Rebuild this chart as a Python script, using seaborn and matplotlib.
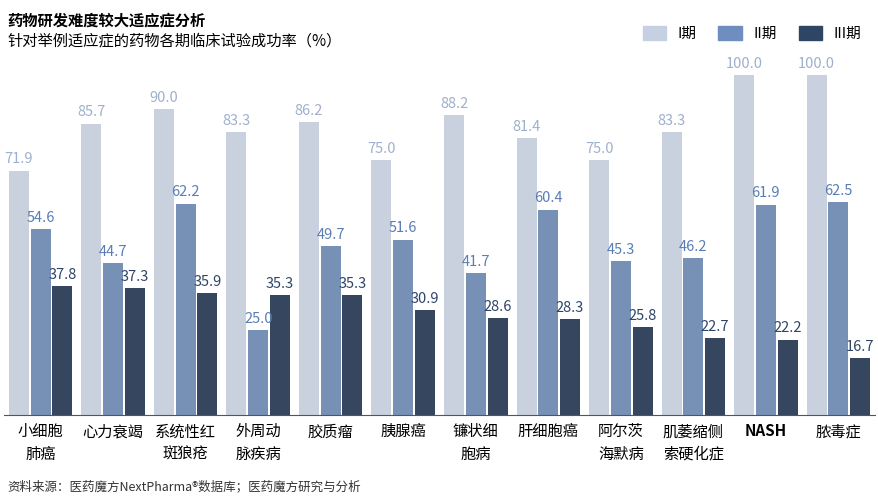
import matplotlib
matplotlib.use("Agg")
import matplotlib.pyplot as plt
import seaborn as sns
import pandas as pd
from matplotlib.patches import Patch

plt.rcParams["font.family"] = ["Noto Sans CJK SC", "DejaVu Sans"]

# ── Data ──────────────────────────────────────────────────────────────────────
CATEGORIES = ["小细胞\n肺癌", "心力衰竭", "系统性红\n斑狼疮", "外周动\n脉疾病", "胶质瘤", "胰腺癌",
              "镰状细\n胞病", "肝细胞癌", "阿尔茨\n海默病", "肌萎缩侧\n索硬化症", "NASH", "脓毒症"]
PHASE_1 = [71.9, 85.7, 90.0, 83.3, 86.2, 75.0, 88.2, 81.4, 75.0, 83.3, 100.0, 100.0]
PHASE_2 = [54.6, 44.7, 62.2, 25.0, 49.7, 51.6, 41.7, 60.4, 45.3, 46.2, 61.9, 62.5]
PHASE_3 = [37.8, 37.3, 35.9, 35.3, 35.3, 30.9, 28.6, 28.3, 25.8, 22.7, 22.2, 16.7]
PHASES = ["I期", "II期", "III期"]

COLORS = ["#c5d0e3", "#6d8ebf", "#2f4566"]
LABEL_COLORS = ["#9fb0cc", "#5a7db5", "#2f4566"]

rows = []
for ph, vals in zip(PHASES, [PHASE_1, PHASE_2, PHASE_3]):
    for c, v in zip(CATEGORIES, vals):
        rows.append({"cat": c, "phase": ph, "val": v})
df = pd.DataFrame(rows)

# ── Plot ──────────────────────────────────────────────────────────────────────
fig = plt.figure(figsize=(8.79, 5), dpi=100)
ax = fig.add_axes([0.005, 0.17, 0.99, 0.68])
sns.barplot(data=df, x="cat", y="val", hue="phase", palette=COLORS,
            width=0.9, gap=0.08, ax=ax, legend=False)

for cont, col in zip(ax.containers, LABEL_COLORS):
    ax.bar_label(cont, fmt="%.1f", padding=3, color=col, fontsize=10.5, clip_on=False)

ax.set_ylim(0, 100)
ax.set_xlim(-0.5, len(CATEGORIES) - 0.5)
ax.set_xlabel(""); ax.set_ylabel("")
ax.set_yticks([])
for s in ["top", "right", "left"]:
    ax.spines[s].set_visible(False)
ax.spines["bottom"].set_color("#555555")
ax.tick_params(axis="x", length=0, labelsize=11, pad=6)
for lab in ax.get_xticklabels():
    lab.set_linespacing(1.4)
    if lab.get_text() == "NASH":
        lab.set_fontweight("bold")

fig.text(0.008, 0.975, "药物研发难度较大适应症分析", fontsize=11, fontweight="bold", va="top")
fig.text(0.008, 0.935, "针对举例适应症的药物各期临床试验成功率（%）", fontsize=11, va="top")
fig.text(0.008, 0.02, "资料来源：医药魔方NextPharma®数据库；医药魔方研究与分析", fontsize=9, color="#333333")

handles = [Patch(color=c, label=p) for c, p in zip(COLORS, PHASES)]
fig.legend(handles=handles, loc="upper right", bbox_to_anchor=(0.995, 0.975), ncol=3,
           frameon=False, fontsize=10.5, handlelength=1.6, handleheight=1.1, columnspacing=1.5)

fig.savefig("out.png", dpi=100)
